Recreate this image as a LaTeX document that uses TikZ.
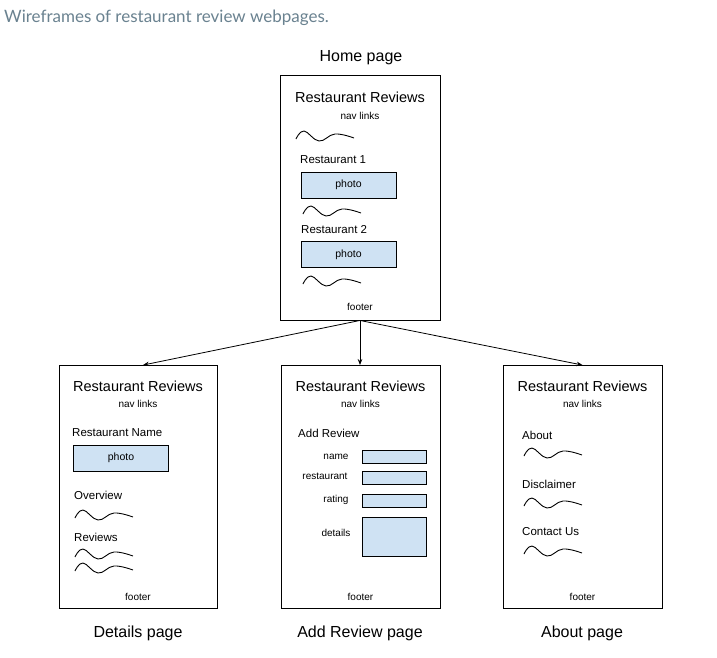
\documentclass[tikz,border=0pt]{standalone}
\usepackage{fontspec}
\setmainfont{Liberation Sans}
\newfontfamily\titlefont{Lato}
\usetikzlibrary{arrows.meta}
\definecolor{fieldblue}{HTML}{CFE2F3}
\definecolor{titlegray}{HTML}{6A8290}
\tikzset{
  page/.style={draw=black, line width=0.9pt, minimum width=159pt, minimum height=243pt, inner sep=0pt},
  photobox/.style={draw=black, line width=0.8pt, fill=fieldblue, minimum width=95pt, minimum height=26pt, inner sep=0pt, font=\fontsize{10.5}{12}\selectfont},
  fieldbox/.style={draw=black, line width=0.8pt, fill=fieldblue, minimum width=64pt, minimum height=13pt, inner sep=0pt},
  hdr/.style={font=\fontsize{14.5}{16}\selectfont, inner sep=0pt},
  nav/.style={font=\fontsize{10}{12}\selectfont, inner sep=0pt},
  sect/.style={font=\fontsize{11.5}{13}\selectfont, inner sep=0pt, anchor=west},
  small/.style={font=\fontsize{10}{12}\selectfont, inner sep=0pt},
  pagelabel/.style={font=\fontsize{16}{18}\selectfont, inner sep=0pt},
  link/.style={draw=black, line width=0.8pt, -{Stealth[length=6pt,width=4.5pt]}},
  squig/.pic={\draw[line width=0.9pt] plot[smooth, tension=0.7] coordinates {(0,4) (8,-4) (23,6) (39,-1) (58,3)};}
}
\begin{document}
\begin{tikzpicture}[x=1pt,y=-1pt]
\useasboundingbox[fill=white] (0,0) rectangle (717,657);
\node[anchor=west, inner sep=0pt, text=titlegray, font=\titlefont\fontsize{17}{20}\selectfont] (title) at (4,18) {Wireframes of restaurant review webpages.};

% Home page
\node[pagelabel] (homelbl) at (361,58) {Home page};
\node[page, minimum width=160pt, minimum height=245pt] (home) at (360,197.5) {};
\node[hdr] (hh) at (360,97) {Restaurant Reviews};
\node[nav] (hn) at (360,116) {nav links};
\node[sect] (hr1) at (300,160) {Restaurant 1};
\node[photobox] (hp1) at (348.5,185) {photo};
\node[sect] (hr2) at (301,230) {Restaurant 2};
\node[photobox] (hp2) at (348.5,254.5) {photo};
\node[small] (hf) at (360,307) {footer};
\pic at (296,135) {squig};
\pic at (303,210) {squig};
\pic at (303,280) {squig};

% Details page
\node[page, minimum width=158pt] (det) at (138,487) {};
\node[hdr] (dh) at (138,386) {Restaurant Reviews};
\node[nav] (dn) at (138,404) {nav links};
\node[sect] (dname) at (72,433) {Restaurant Name};
\node[photobox] (dp) at (121,458) {photo};
\node[sect] (dov) at (74,495) {Overview};
\node[sect] (drev) at (74,537) {Reviews};
\node[small] (df) at (138,597) {footer};
\node[pagelabel] (detlbl) at (138,633) {Details page};
\pic at (75,514) {squig};
\pic at (75,553) {squig};
\pic at (75,567) {squig};

% Add review page
\node[page] (add) at (360.5,487) {};
\node[hdr] (ah) at (360.5,386) {Restaurant Reviews};
\node[nav] (an) at (360.5,404) {nav links};
\node[sect] (aar) at (298,433) {Add Review};
\node[small] (lname) at (336,457) {name};
\node[small] (lrest) at (325,476) {restaurant};
\node[small] (lrat) at (336,500) {rating};
\node[small] (ldet) at (336,533) {details};
\node[fieldbox] (fname) at (394,456.5) {};
\node[fieldbox] (frest) at (394,477.5) {};
\node[fieldbox] (frat) at (394,500.5) {};
\node[fieldbox, minimum height=39pt] (fdet) at (394,536.5) {};
\node[small] (af) at (360.5,597) {footer};
\node[pagelabel] (addlbl) at (360,633) {Add Review page};

% About page
\node[page] (abt) at (582.5,487) {};
\node[hdr] (bh) at (582.5,386) {Restaurant Reviews};
\node[nav] (bn) at (582.5,404) {nav links};
\node[sect] (babout) at (522,435) {About};
\node[sect] (bdis) at (522,484) {Disclaimer};
\node[sect] (bcon) at (522,532) {Contact Us};
\node[small] (bf) at (582.5,597) {footer};
\node[pagelabel] (abtlbl) at (582,633) {About page};
\pic at (524,452) {squig};
\pic at (524,502) {squig};
\pic at (524,550) {squig};

% connectors
\draw[link] (home.south) -- ([xshift=5pt]det.north);
\draw[link] (home.south) -- (add.north -| home.south);
\draw[link] (home.south) -- (abt.north);
\end{tikzpicture}
\end{document}
